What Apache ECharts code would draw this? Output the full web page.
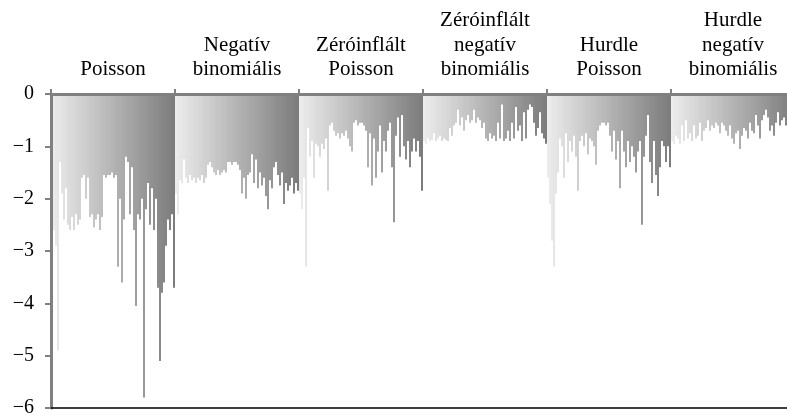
<!DOCTYPE html>
<html>
<head>
<meta charset="utf-8">
<script src="https://cdn.jsdelivr.net/npm/echarts@6/dist/echarts.min.js"></script>
<style>html,body{margin:0;padding:0;background:#fff;overflow:hidden;width:787px;height:418px;}#c{width:800px;height:418px;}</style>
</head>
<body>
<div id="c"></div>
<script>
const panelNames = ['Poisson', 'Negatív\nbinomiális', 'Zéróinflált\nPoisson', 'Zéróinflált\nnegatív\nbinomiális', 'Hurdle\nPoisson', 'Hurdle\nnegatív\nbinomiális'];
const yTicks = [0, -1, -2, -3, -4, -5, -6];

const poisson = [-2.7,-2.6,-2.9,-4.9,-1.3,-1.9,-2.4,-1.8,-2.5,-2.6,-2.35,-2.6,-2.3,-2.5,-2.4,-1.6,-1.55,-2.0,-1.6,-2.35,-2.3,-2.55,-2.4,-2.3,-2.6,-2.35,-1.55,-1.6,-1.55,-1.55,-1.5,-1.6,-1.55,-3.3,-2.0,-3.6,-2.4,-1.2,-1.3,-2.3,-1.4,-2.6,-4.05,-2.3,-2.4,-2.0,-5.8,-2.2,-1.7,-2.5,-1.8,-2.6,-2.0,-3.7,-5.1,-3.8,-3.6,-2.9,-2.4,-2.6,-2.3,-3.7];
const negBin = [-1.9,-2.3,-1.65,-1.7,-1.25,-1.6,-1.7,-1.55,-1.65,-1.6,-1.7,-1.6,-1.65,-1.55,-1.7,-1.6,-1.35,-1.3,-1.4,-1.5,-1.55,-1.45,-1.55,-1.5,-1.45,-1.5,-1.3,-1.3,-1.35,-1.3,-1.3,-1.35,-1.45,-1.9,-1.6,-2.0,-1.55,-1.5,-1.15,-1.7,-1.25,-1.8,-1.5,-1.75,-1.6,-1.95,-2.2,-1.65,-1.8,-1.4,-1.3,-1.55,-1.75,-1.5,-2.1,-1.7,-1.85,-1.75,-1.6,-1.9,-1.7,-1.85];
const ziPoisson = [-1.9,-2.2,-1.6,-3.3,-0.65,-1.2,-0.9,-1.6,-0.95,-1.0,-1.2,-0.95,-1.05,-0.85,-1.85,-0.6,-0.55,-0.7,-0.8,-0.75,-0.85,-0.75,-0.8,-0.7,-0.85,-1.0,-1.1,-0.55,-0.5,-0.6,-0.55,-0.55,-0.6,-0.7,-1.4,-0.75,-1.75,-0.85,-1.6,-1.1,-0.6,-1.5,-0.9,-1.1,-0.7,-0.55,-1.4,-2.45,-0.8,-0.45,-1.2,-0.4,-1.0,-1.25,-0.9,-1.4,-1.1,-0.85,-1.1,-0.9,-1.2,-1.85];
const ziNegBin = [-0.9,-0.95,-0.85,-0.9,-0.88,-0.75,-0.9,-0.85,-0.8,-0.9,-0.85,-0.88,-0.9,-0.65,-0.8,-0.6,-0.55,-0.3,-0.6,-0.45,-0.7,-0.5,-0.4,-0.55,-0.5,-0.3,-0.55,-0.45,-0.5,-0.65,-0.55,-0.85,-0.9,-0.75,-0.85,-0.8,-0.9,-0.55,-0.85,-0.2,-0.9,-0.85,-0.7,-0.9,-0.55,-0.85,-0.25,-0.7,-0.6,-0.9,-0.35,-0.85,-0.3,-0.2,-0.25,-0.55,-0.8,-0.65,-0.35,-0.75,-0.85,-0.95];
const hurdlePoisson = [-1.6,-2.1,-2.8,-3.3,-1.9,-1.5,-0.85,-1.0,-1.6,-0.75,-1.3,-0.9,-1.1,-0.8,-1.2,-1.85,-0.9,-0.8,-1.0,-0.75,-1.15,-0.85,-0.9,-1.0,-1.35,-0.7,-0.6,-0.55,-0.55,-0.6,-0.55,-0.8,-1.1,-0.7,-1.25,-0.9,-1.8,-0.7,-1.1,-1.4,-0.9,-1.3,-1.0,-1.2,-1.5,-1.1,-0.9,-2.5,-1.2,-0.8,-0.4,-1.3,-1.7,-0.9,-1.55,-1.95,-1.4,-0.9,-1.0,-1.3,-1.0,-1.4];
const hurdleNegBin = [-0.9,-0.95,-0.8,-0.85,-0.95,-0.6,-0.9,-0.5,-0.85,-0.75,-0.9,-0.6,-0.85,-0.8,-0.55,-0.9,-0.7,-0.65,-0.5,-0.7,-0.6,-0.65,-0.55,-0.6,-0.75,-0.55,-0.6,-0.7,-0.8,-0.6,-0.85,-0.95,-0.75,-0.7,-1.05,-0.8,-0.65,-0.7,-0.85,-0.55,-0.7,-0.75,-0.4,-0.6,-0.85,-0.5,-0.4,-0.3,-0.45,-0.7,-0.6,-0.8,-0.55,-0.35,-0.6,-0.5,-0.45,-0.6,-0.5,-0.55,-0.45,-0.6];

const panels = [poisson, negBin, ziPoisson, ziNegBin, hurdlePoisson, hurdleNegBin];
const perPanel = poisson.length;
const values = [];
const cats = [];
panels.forEach((arr, p) => arr.forEach((v, k) => { values.push(v); cats.push(p + '-' + k); }));

function barColor(params) {
  const k = params.dataIndex % perPanel;
  const g = Math.round(236 - (236 - 124) * k / (perPanel - 1));
  return 'rgb(' + g + ',' + g + ',' + g + ')';
}

const font = 'Liberation Serif, Times New Roman, serif';
const chart = echarts.init(document.getElementById('c'), null, {renderer: 'canvas'});
chart.setOption({
  animation: false,
  grid: {left: 51, right: 5, top: 94, bottom: 7, containLabel: false},
  xAxis: [
    {
      type: 'category', data: cats, position: 'top', z: 5,
      axisLine: {onZero: false, lineStyle: {color: '#808080', width: 3}},
      axisTick: {show: true, length: 5, interval: function (i) { return i % perPanel === 0; }, lineStyle: {color: '#808080', width: 2}},
      axisLabel: {show: false}, splitLine: {show: false}
    },
    {
      type: 'category', data: panelNames, position: 'top', z: 5,
      axisLine: {show: false, onZero: false}, axisTick: {show: false},
      axisLabel: {interval: 0, color: '#000', fontFamily: font, fontSize: 21, lineHeight: 24.5, margin: 12}
    },
    {
      type: 'category', data: cats, position: 'bottom', z: 5,
      axisLine: {onZero: false, lineStyle: {color: '#000', width: 1.5}},
      axisTick: {show: false}, axisLabel: {show: false}
    }
  ],
  yAxis: {
    type: 'value', min: yTicks[yTicks.length - 1], max: yTicks[0], interval: 1, z: 5,
    axisLine: {show: true, lineStyle: {color: '#808080', width: 3}},
    axisTick: {show: true, length: 6, lineStyle: {color: '#808080', width: 2}},
    splitLine: {show: false},
    axisLabel: {color: '#000', fontFamily: font, fontSize: 20, margin: 17,
      formatter: function (v) { return v === 0 ? '0' : '\u2212' + Math.abs(v); }}
  },
  series: [{
    type: 'bar', xAxisIndex: 0, data: values, barCategoryGap: '0%', barWidth: '100%',
    itemStyle: {color: barColor}
  }]
});
</script>
</body>
</html>
